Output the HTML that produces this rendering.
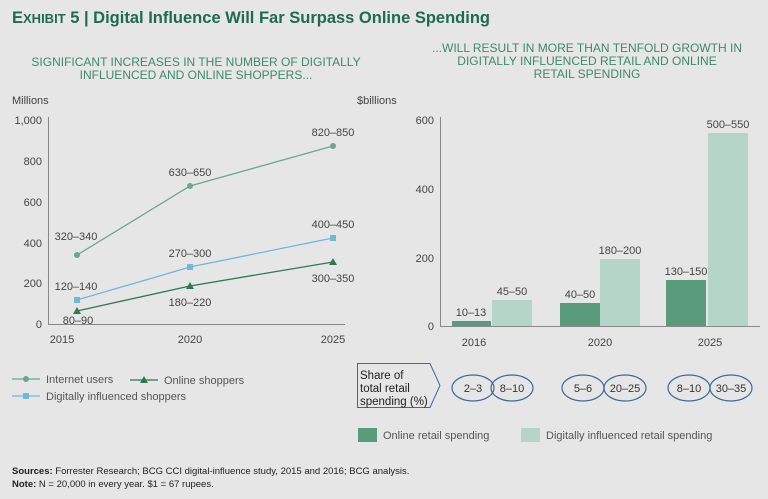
<!DOCTYPE html><html><head><style>body{margin:0;background:#e6e6e6}svg{display:block}text{font-family:"Liberation Sans",sans-serif}</style></head><body>
<svg width="768" height="499" viewBox="0 0 768 499" xmlns="http://www.w3.org/2000/svg">
<rect width="768" height="499" fill="#e6e6e6"/>
<text x="12" y="23" font-size="16.5" font-weight="bold" fill="#1e6b4f">E<tspan font-size="13">XHIBIT</tspan> 5 | Digital Influence Will Far Surpass Online Spending</text>
<g font-size="12" fill="#3e8a6a" text-anchor="middle">
<text x="196" y="66">SIGNIFICANT INCREASES IN THE NUMBER OF DIGITALLY</text>
<text x="196" y="79">INFLUENCED AND ONLINE SHOPPERS...</text>
<text x="587" y="52">...WILL RESULT IN MORE THAN TENFOLD GROWTH IN</text>
<text x="587" y="65">DIGITALLY INFLUENCED RETAIL AND ONLINE</text>
<text x="587" y="78">RETAIL SPENDING</text></g>
<g font-size="11" fill="#444">
<text x="12" y="104">Millions</text>
<g text-anchor="end"><text x="42" y="124">1,000</text><text x="42" y="165">800</text><text x="42" y="206">600</text><text x="42" y="247">400</text><text x="42" y="287">200</text><text x="42" y="328">0</text></g>
<g text-anchor="middle"><text x="62" y="343">2015</text><text x="190" y="343">2020</text><text x="333" y="343">2025</text></g>
<text x="357" y="104">$billions</text>
<g text-anchor="end"><text x="434" y="124">600</text><text x="434" y="193">400</text><text x="434" y="262">200</text><text x="434" y="330">0</text></g>
<g text-anchor="middle"><text x="474" y="346">2016</text><text x="600" y="346">2020</text><text x="710" y="346">2025</text></g>
</g>
<line x1="48.5" y1="117" x2="48.5" y2="324" stroke="#888"/><line x1="48" y1="324.5" x2="345" y2="324.5" stroke="#888"/>
<line x1="440.5" y1="117" x2="440.5" y2="326" stroke="#888"/><line x1="440" y1="326.5" x2="760" y2="326.5" stroke="#888"/>
<polyline points="77,255 190,186 333,146" fill="none" stroke="#6aa88c" stroke-width="1.3"/>
<g fill="#6aa88c"><circle cx="77" cy="255" r="3"/><circle cx="190" cy="186" r="3"/><circle cx="333" cy="146" r="3"/></g>
<polyline points="77,300 190,267 333,238" fill="none" stroke="#6fb8d8" stroke-width="1.3"/>
<g fill="#6fb8d8"><rect x="74" y="297" width="6" height="6"/><rect x="187" y="264" width="6" height="6"/><rect x="330" y="235" width="6" height="6"/></g>
<polyline points="77,311 190,286 333,262" fill="none" stroke="#2e7a55" stroke-width="1.3"/>
<g fill="#2e7a55"><path d="M77 307l4 7h-8z"/><path d="M190 282l4 7h-8z"/><path d="M333 258l4 7h-8z"/></g>
<g font-size="11" fill="#444" text-anchor="middle">
<text x="76" y="240">320–340</text><text x="190" y="176">630–650</text><text x="333" y="136">820–850</text>
<text x="76" y="290">120–140</text><text x="190" y="257">270–300</text><text x="333" y="228">400–450</text>
<text x="78" y="324">80–90</text><text x="190" y="306">180–220</text><text x="333" y="282">300–350</text>
</g>
<g fill="#5a9a7d"><rect x="452" y="321" width="39" height="5"/><rect x="560" y="303" width="40" height="23"/><rect x="666" y="280" width="40" height="46"/></g>
<g fill="#b5d5c8"><rect x="492" y="300" width="40" height="26"/><rect x="600" y="259" width="40" height="67"/><rect x="708" y="133" width="40" height="193"/></g>
<g font-size="11" fill="#444" text-anchor="middle">
<text x="471" y="316">10–13</text><text x="512" y="295">45–50</text>
<text x="580" y="298">40–50</text><text x="620" y="254">180–200</text>
<text x="686" y="275">130–150</text><text x="728" y="128">500–550</text>
</g>
<g font-size="11" fill="#555">
<line x1="12" y1="379" x2="40" y2="379" stroke="#6aa88c" stroke-width="1.3"/><circle cx="26" cy="379" r="3" fill="#6aa88c"/><text x="46" y="383">Internet users</text>
<line x1="130" y1="380" x2="158" y2="380" stroke="#2e7a55" stroke-width="1.3"/><path d="M144 376l4 7h-8z" fill="#2e7a55"/><text x="164" y="384">Online shoppers</text>
<line x1="12" y1="396" x2="40" y2="396" stroke="#6fb8d8" stroke-width="1.3"/><rect x="23" y="393" width="6" height="6" fill="#6fb8d8"/><text x="46" y="400">Digitally influenced shoppers</text>
</g>
<path d="M357.5 363.5H430l10 22-10 22h-72.5z" fill="none" stroke="#3d6a99" stroke-width="1"/>
<g font-size="11.5" fill="#222"><text x="360" y="379">Share of</text><text x="360" y="392">total retail</text><text x="360" y="405">spending (%)</text></g>
<g fill="none" stroke="#3d6a99" stroke-width="1.2">
<ellipse cx="473" cy="388" rx="21" ry="13"/><ellipse cx="512" cy="388" rx="21" ry="13"/>
<ellipse cx="583" cy="388" rx="21" ry="13"/><ellipse cx="625" cy="388" rx="21" ry="13"/>
<ellipse cx="689" cy="388" rx="21" ry="13"/><ellipse cx="731" cy="388" rx="21" ry="13"/></g>
<g font-size="11" fill="#333" text-anchor="middle">
<text x="473" y="392">2–3</text><text x="512" y="392">8–10</text><text x="583" y="392">5–6</text><text x="625" y="392">20–25</text><text x="689" y="392">8–10</text><text x="731" y="392">30–35</text></g>
<rect x="358" y="428" width="19" height="14" fill="#5a9a7d"/><text x="383" y="439" font-size="11" fill="#555">Online retail spending</text>
<rect x="521" y="428" width="19" height="14" fill="#b5d5c8"/><text x="546" y="439" font-size="11" fill="#555">Digitally influenced retail spending</text>
<text x="12" y="474" font-size="9.5" fill="#222"><tspan font-weight="bold">Sources:</tspan> Forrester Research; BCG CCI digital-influence study, 2015 and 2016; BCG analysis.</text>
<text x="12" y="487" font-size="9.5" fill="#222"><tspan font-weight="bold">Note:</tspan> N = 20,000 in every year. $1 = 67 rupees.</text>
</svg></body></html>
